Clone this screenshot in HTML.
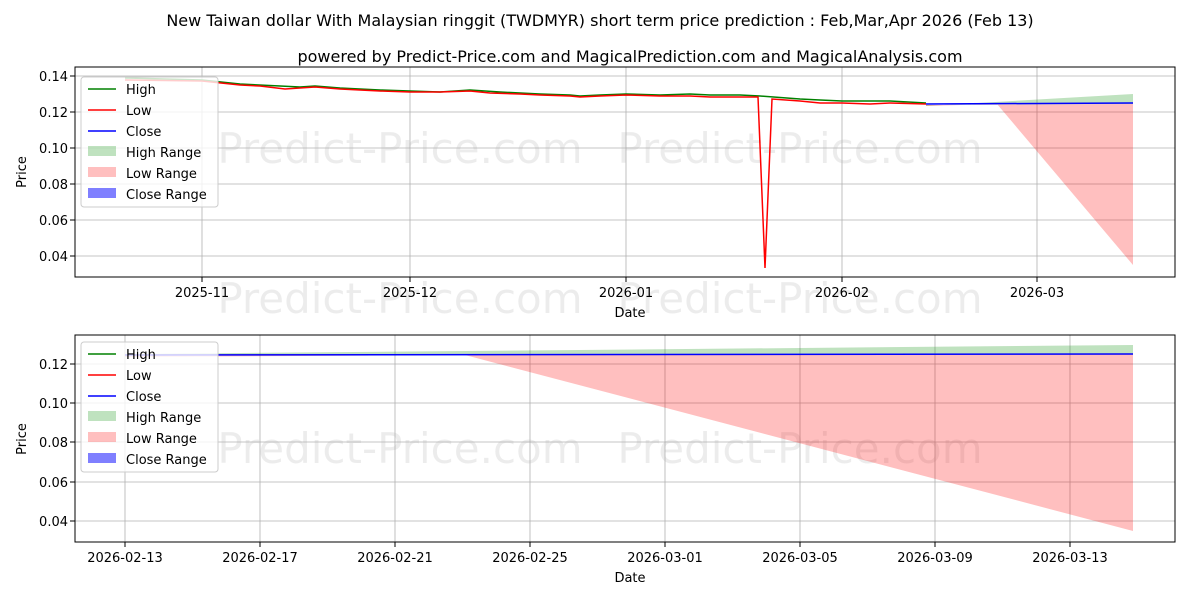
<!DOCTYPE html>
<html><head><meta charset="utf-8"><style>
body{margin:0;background:#fff;}
svg text{font-family:"DejaVu Sans","Liberation Sans",sans-serif;}
</style></head><body>
<svg width="1200" height="600" viewBox="0 0 1200 600" xmlns="http://www.w3.org/2000/svg">
<rect width="1200" height="600" fill="#fff"/>
<text x="600" y="26" font-size="16" text-anchor="middle">New Taiwan dollar With Malaysian ringgit (TWDMYR) short term price prediction : Feb,Mar,Apr 2026 (Feb 13)</text>
<text x="630" y="62" font-size="16" text-anchor="middle">powered by Predict-Price.com and MagicalPrediction.com and MagicalAnalysis.com</text>

<g>
<text x="400" y="163" font-size="42" fill="#000" opacity="0.07" text-anchor="middle">Predict-Price.com</text>
<text x="800" y="163" font-size="42" fill="#000" opacity="0.07" text-anchor="middle">Predict-Price.com</text>
<text x="400" y="313" font-size="42" fill="#000" opacity="0.07" text-anchor="middle">Predict-Price.com</text>
<text x="800" y="313" font-size="42" fill="#000" opacity="0.07" text-anchor="middle">Predict-Price.com</text>
<g stroke="#b0b0b0" stroke-width="0.8">
<line x1="202" y1="67" x2="202" y2="277"/><line x1="410" y1="67" x2="410" y2="277"/><line x1="626" y1="67" x2="626" y2="277"/><line x1="842" y1="67" x2="842" y2="277"/><line x1="1037" y1="67" x2="1037" y2="277"/>
<line x1="75" y1="76" x2="1175" y2="76"/><line x1="75" y1="112" x2="1175" y2="112"/><line x1="75" y1="148" x2="1175" y2="148"/><line x1="75" y1="184" x2="1175" y2="184"/><line x1="75" y1="220" x2="1175" y2="220"/><line x1="75" y1="256" x2="1175" y2="256"/>
</g>
<polygon points="926,106 1133,94 1133,104 926,105" fill="#2ca02c" opacity="0.3"/>
<polygon points="926,106 997,104 1133,265 1133,104 926,105" fill="#ff0000" opacity="0.25"/>
<polyline fill="none" stroke="#008000" stroke-width="1.5" points="125,78 202,80 240,84 280,86 300,87 315,86 340,88 380,90 410,91 440,92 470,90 500,92 540,94 570,95 580,96 600,95 626,94 660,95 690,94 710,95 740,95 760,96 800,99 820,100 842,101 870,101 890,101 926,103"/>
<polyline fill="none" stroke="#ff0000" stroke-width="1.5" points="125,80 202,81 240,85 260,86 285,89 300,88 315,87 340,89 380,91 410,92 440,92 470,91 490,93 520,94 540,95 570,96 580,97 600,96 626,95 660,96 690,96 710,97 740,97 758,97 765,268 772,99 800,101 820,103 842,103 870,104 890,103 926,104"/>
<polyline fill="none" stroke="#0000ff" stroke-width="1.5" points="926,104 1133,103"/>
<rect x="75" y="67" width="1100" height="210" fill="none" stroke="#000" stroke-width="1"/>
<g font-size="13" text-anchor="end">
<text x="68" y="81">0.14</text><text x="68" y="117">0.12</text><text x="68" y="153">0.10</text><text x="68" y="189">0.08</text><text x="68" y="225">0.06</text><text x="68" y="261">0.04</text>
</g>
<g stroke="#000"><line x1="70" y1="76" x2="75" y2="76"/><line x1="70" y1="112" x2="75" y2="112"/><line x1="70" y1="148" x2="75" y2="148"/><line x1="70" y1="184" x2="75" y2="184"/><line x1="70" y1="220" x2="75" y2="220"/><line x1="70" y1="256" x2="75" y2="256"/>
<line x1="202" y1="277" x2="202" y2="282"/><line x1="410" y1="277" x2="410" y2="282"/><line x1="626" y1="277" x2="626" y2="282"/><line x1="842" y1="277" x2="842" y2="282"/><line x1="1037" y1="277" x2="1037" y2="282"/></g>
<g font-size="13" text-anchor="middle">
<text x="202" y="297">2025-11</text><text x="410" y="297">2025-12</text><text x="626" y="297">2026-01</text><text x="842" y="297">2026-02</text><text x="1037" y="297">2026-03</text>
<text x="630" y="317">Date</text>
</g>
<text x="26" y="172" font-size="13" text-anchor="middle" transform="rotate(-90 26 172)">Price</text>
<g>
<rect x="81" y="77" width="137" height="130" fill="#fff" fill-opacity="0.8" stroke="#ccc" rx="3"/>
<line x1="88" y1="89" x2="116" y2="89" stroke="#008000" stroke-width="1.5"/><text x="126" y="94" font-size="13">High</text>
<line x1="88" y1="110" x2="116" y2="110" stroke="#ff0000" stroke-width="1.5"/><text x="126" y="115" font-size="13">Low</text>
<line x1="88" y1="131" x2="116" y2="131" stroke="#0000ff" stroke-width="1.5"/><text x="126" y="136" font-size="13">Close</text>
<rect x="88" y="146" width="28" height="10" fill="#2ca02c" opacity="0.3"/><text x="126" y="157" font-size="13">High Range</text>
<rect x="88" y="167" width="28" height="10" fill="#ff0000" opacity="0.25"/><text x="126" y="178" font-size="13">Low Range</text>
<rect x="88" y="188" width="28" height="10" fill="#0000ff" opacity="0.5"/><text x="126" y="199" font-size="13">Close Range</text>
</g>
</g>

<g>
<text x="400" y="463" font-size="42" fill="#000" opacity="0.07" text-anchor="middle">Predict-Price.com</text>
<text x="800" y="463" font-size="42" fill="#000" opacity="0.07" text-anchor="middle">Predict-Price.com</text>
<g stroke="#b0b0b0" stroke-width="0.8">
<line x1="125" y1="335" x2="125" y2="542"/><line x1="260" y1="335" x2="260" y2="542"/><line x1="395" y1="335" x2="395" y2="542"/><line x1="530" y1="335" x2="530" y2="542"/><line x1="665" y1="335" x2="665" y2="542"/><line x1="800" y1="335" x2="800" y2="542"/><line x1="935" y1="335" x2="935" y2="542"/><line x1="1070" y1="335" x2="1070" y2="542"/>
<line x1="75" y1="364" x2="1175" y2="364"/><line x1="75" y1="403" x2="1175" y2="403"/><line x1="75" y1="442" x2="1175" y2="442"/><line x1="75" y1="482" x2="1175" y2="482"/><line x1="75" y1="521" x2="1175" y2="521"/>
</g>
<polygon points="125,354 1133,345 1133,354 125,355" fill="#2ca02c" opacity="0.3"/>
<polygon points="125,355 465,355 1133,531 1133,354 125,354" fill="#ff0000" opacity="0.25"/>
<polygon points="125,355 465,355 125,357" fill="#ff0000" opacity="0.25"/>
<polyline fill="none" stroke="#0000ff" stroke-width="1.5" points="125,355 1133,354"/>
<rect x="75" y="335" width="1100" height="207" fill="none" stroke="#000" stroke-width="1"/>
<g font-size="13" text-anchor="end">
<text x="68" y="369">0.12</text><text x="68" y="408">0.10</text><text x="68" y="447">0.08</text><text x="68" y="487">0.06</text><text x="68" y="526">0.04</text>
</g>
<g stroke="#000"><line x1="70" y1="364" x2="75" y2="364"/><line x1="70" y1="403" x2="75" y2="403"/><line x1="70" y1="442" x2="75" y2="442"/><line x1="70" y1="482" x2="75" y2="482"/><line x1="70" y1="521" x2="75" y2="521"/>
<line x1="125" y1="542" x2="125" y2="547"/><line x1="260" y1="542" x2="260" y2="547"/><line x1="395" y1="542" x2="395" y2="547"/><line x1="530" y1="542" x2="530" y2="547"/><line x1="665" y1="542" x2="665" y2="547"/><line x1="800" y1="542" x2="800" y2="547"/><line x1="935" y1="542" x2="935" y2="547"/><line x1="1070" y1="542" x2="1070" y2="547"/></g>
<g font-size="13" text-anchor="middle">
<text x="125" y="562">2026-02-13</text><text x="260" y="562">2026-02-17</text><text x="395" y="562">2026-02-21</text><text x="530" y="562">2026-02-25</text><text x="665" y="562">2026-03-01</text><text x="800" y="562">2026-03-05</text><text x="935" y="562">2026-03-09</text><text x="1070" y="562">2026-03-13</text>
<text x="630" y="582">Date</text>
</g>
<text x="26" y="439" font-size="13" text-anchor="middle" transform="rotate(-90 26 439)">Price</text>
<g>
<rect x="81" y="342" width="137" height="130" fill="#fff" fill-opacity="0.8" stroke="#ccc" rx="3"/>
<line x1="88" y1="354" x2="116" y2="354" stroke="#008000" stroke-width="1.5"/><text x="126" y="359" font-size="13">High</text>
<line x1="88" y1="375" x2="116" y2="375" stroke="#ff0000" stroke-width="1.5"/><text x="126" y="380" font-size="13">Low</text>
<line x1="88" y1="396" x2="116" y2="396" stroke="#0000ff" stroke-width="1.5"/><text x="126" y="401" font-size="13">Close</text>
<rect x="88" y="411" width="28" height="10" fill="#2ca02c" opacity="0.3"/><text x="126" y="422" font-size="13">High Range</text>
<rect x="88" y="432" width="28" height="10" fill="#ff0000" opacity="0.25"/><text x="126" y="443" font-size="13">Low Range</text>
<rect x="88" y="453" width="28" height="10" fill="#0000ff" opacity="0.5"/><text x="126" y="464" font-size="13">Close Range</text>
</g>
</g>
</svg>
</body></html>
